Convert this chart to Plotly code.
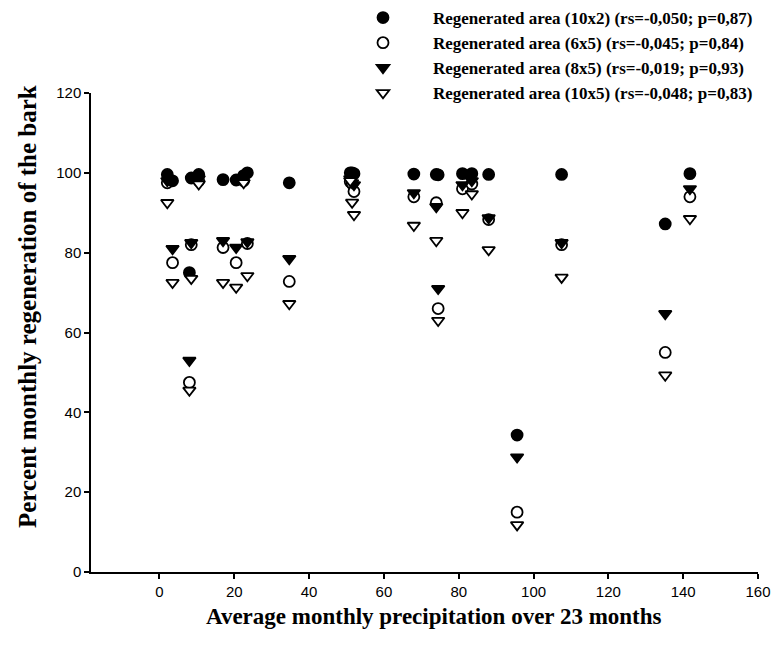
import plotly.graph_objects as go

# Average monthly precipitation for each of the 23 months
precip = [2.1, 3.5, 8.0, 8.5, 10.5, 17.0, 20.5, 22.5, 23.5, 34.7,
          51.0, 51.5, 52.0, 68.0, 74.0, 74.5, 81.0, 83.5, 88.0, 95.6,
          107.5, 135.2, 141.8]

# Percent monthly regeneration of the bark per regenerated area
area_10x2 = [99.6, 98.0, 75.0, 98.7, 99.6, 98.3, 98.2, 99.3, 100.0, 97.5,
             100.0, 100.0, 99.8, 99.7, 99.6, 99.5, 99.8, 99.8, 99.6, 34.3,
             99.6, 87.2, 99.8]
area_6x5 = [97.5, 77.5, 47.5, 82.0, 98.0, 81.3, 77.5, 98.0, 82.3, 72.8,
            97.8, 97.3, 95.3, 94.0, 92.5, 66.0, 96.0, 97.2, 88.3, 15.0,
            82.0, 55.0, 94.0]
area_8x5 = [98.0, 81.0, 53.0, 82.5, 98.5, 83.0, 81.3, 98.5, 82.7, 78.5,
            98.5, 97.5, 97.0, 95.0, 91.5, 71.0, 97.0, 98.0, 88.7, 28.8,
            82.5, 64.7, 96.0]
area_10x5 = [92.5, 72.5, 45.5, 73.5, 97.2, 72.5, 71.3, 97.5, 74.2, 67.2,
             98.0, 92.6, 89.5, 86.8, 83.0, 63.0, 90.0, 94.7, 80.7, 11.8,
             73.8, 49.3, 88.5]

labels = [
    "Regenerated area (10x2) (rs=-0,050; p=0,87)",
    "Regenerated area (6x5) (rs=-0,045; p=0,84)",
    "Regenerated area (8x5) (rs=-0,019; p=0,93)",
    "Regenerated area (10x5) (rs=-0,048; p=0,83)",
]

x_title = "Average monthly precipitation over 23 months"
y_title = "Percent monthly regeneration of the bark"

fig = go.Figure()

def add_series(values, label, symbol, fill, rank):
    fig.add_trace(go.Scatter(
        x=precip, y=values, mode="markers", name=label, legendrank=rank,
        marker=dict(symbol=symbol, size=11, color=fill,
                    line=dict(color="black", width=1.8)),
    ))

# drawing order: open circles under filled circles, triangles on top
add_series(area_6x5, labels[1], "circle", "white", 2)
add_series(area_10x2, labels[0], "circle", "black", 1)
add_series(area_8x5, labels[2], "triangle-down", "black", 3)
add_series(area_10x5, labels[3], "triangle-down", "white", 4)

serif_bold = dict(family="Liberation Serif", weight="bold", color="black")

# axis titles placed as paper-anchored annotations
fig.add_annotation(
    text=x_title, xref="paper", yref="paper",
    x=(434 - 91) / 667, y=-44 / 479, xanchor="center", yanchor="middle",
    showarrow=False, font=dict(size=23, **serif_bold),
)
fig.add_annotation(
    text=y_title, xref="paper", yref="paper", textangle=-90,
    x=(27 - 91) / 667, y=(572 - 307) / 479, xanchor="center", yanchor="middle",
    showarrow=False, font=dict(size=25, **serif_bold),
)

fig.update_layout(
    width=773, height=648,
    margin=dict(l=91, r=15, t=93, b=76, autoexpand=False),
    paper_bgcolor="white", plot_bgcolor="white",
    showlegend=True,
    legend=dict(
        xref="container", yref="container",
        x=333 / 773, y=1.0, xanchor="left", yanchor="top",
        font=dict(size=17, **serif_bold), itemwidth=90,
        bgcolor="rgba(0,0,0,0)", tracegroupgap=0,
    ),
    xaxis=dict(
        range=[-18.3, 160], tickmode="array", tickvals=list(range(0, 161, 20)),
        showline=True, linecolor="black", linewidth=1.5,
        ticks="outside", ticklen=5, tickcolor="black", tickwidth=1.5,
        showgrid=False, zeroline=False,
        tickfont=dict(family="Liberation Sans", size=15, color="black"),
    ),
    yaxis=dict(
        range=[0, 120], tickmode="array", tickvals=list(range(0, 121, 20)),
        showline=True, linecolor="black", linewidth=1.5,
        ticks="outside", ticklen=5, tickcolor="black", tickwidth=1.5,
        showgrid=False, zeroline=False,
        tickfont=dict(family="Liberation Sans", size=15, color="black"),
    ),
)

fig.write_html("out.html")
